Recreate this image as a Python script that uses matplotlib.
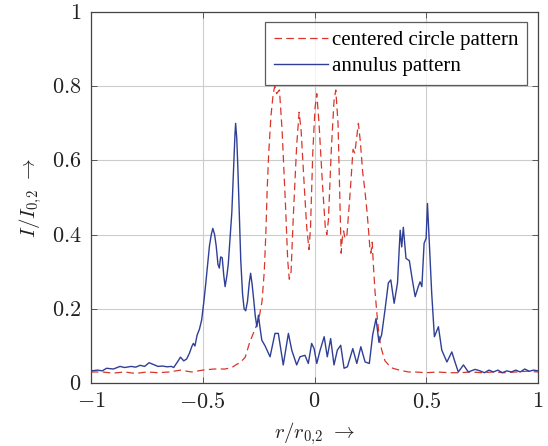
import numpy as np
import matplotlib
matplotlib.use("Agg")
import matplotlib.pyplot as plt

plt.rcParams['mathtext.fontset'] = 'cm'
plt.rcParams['font.family'] = ['Liberation Serif', 'DejaVu Serif']

# centered circle pattern (red, dashed)
circle_x = [-1.0, -0.95, -0.9, -0.85, -0.8, -0.75, -0.7, -0.65, -0.6, -0.55,
            -0.5, -0.45, -0.4, -0.37, -0.35, -0.333, -0.31, -0.29, -0.27, -0.25,
            -0.235, -0.225, -0.218, -0.212, -0.205, -0.195, -0.185, -0.178,
            -0.17, -0.157, -0.145, -0.13, -0.12, -0.113, -0.105, -0.095, -0.08,
            -0.069, -0.06, -0.045, -0.035, -0.025, -0.018, -0.008, 0.002, 0.01,
            0.02, 0.035, 0.048, 0.055, 0.062, 0.075, 0.087, 0.095, 0.105, 0.113,
            0.119, 0.124, 0.13, 0.136, 0.145, 0.16, 0.172, 0.18, 0.19, 0.196,
            0.205, 0.215, 0.225, 0.235, 0.243, 0.248, 0.252, 0.258, 0.262, 0.27,
            0.28, 0.29, 0.3, 0.315, 0.33, 0.35, 0.38, 0.42, 0.45, 0.5, 0.55, 0.6,
            0.65, 0.7, 0.75, 0.8, 0.85, 0.9, 0.95, 1.0]
circle_y = [0.03, 0.03, 0.027, 0.03, 0.026, 0.03, 0.028, 0.03, 0.035, 0.03,
            0.035, 0.038, 0.038, 0.042, 0.05, 0.055, 0.07, 0.11, 0.14, 0.17,
            0.22, 0.30, 0.40, 0.52, 0.62, 0.72, 0.78, 0.80,
            0.78, 0.79, 0.68, 0.48, 0.33, 0.28, 0.30, 0.45, 0.64,
            0.73, 0.68, 0.52, 0.42, 0.36, 0.42, 0.62, 0.74, 0.78,
            0.70, 0.54, 0.42, 0.40, 0.44, 0.63, 0.76, 0.79, 0.70, 0.50,
            0.35, 0.39, 0.41, 0.39, 0.40, 0.52, 0.63, 0.62, 0.67, 0.70,
            0.65, 0.57, 0.52, 0.46, 0.40, 0.36, 0.35, 0.38, 0.33, 0.25,
            0.18, 0.12, 0.09, 0.06, 0.05, 0.04, 0.035, 0.03, 0.03, 0.028, 0.03, 0.028,
            0.028, 0.03, 0.028, 0.03, 0.028, 0.03, 0.032, 0.03]

# annulus pattern (blue, solid)
annulus_x = [-1.0, -0.97, -0.95, -0.93, -0.9, -0.87, -0.85, -0.82, -0.8, -0.78,
             -0.76, -0.74, -0.72, -0.7, -0.68, -0.66, -0.64, -0.63, -0.61, -0.6,
             -0.585, -0.572, -0.56, -0.548, -0.542, -0.535, -0.525, -0.515,
             -0.505, -0.495, -0.488, -0.48, -0.47, -0.462, -0.455, -0.447,
             -0.44, -0.432, -0.426, -0.42, -0.413, -0.406, -0.4, -0.392, -0.386,
             -0.378, -0.37, -0.362, -0.356, -0.353, -0.348, -0.343, -0.336,
             -0.33, -0.322, -0.315, -0.308, -0.3, -0.292, -0.286, -0.28, -0.272,
             -0.265, -0.258, -0.251, -0.244, -0.236, -0.221, -0.199, -0.177,
             -0.162, -0.14, -0.117, -0.102, -0.08, -0.065, -0.043, -0.028,
             -0.013, -0.002, 0.01, 0.025, 0.043, 0.057, 0.072, 0.087, 0.102,
             0.117, 0.132, 0.147, 0.171, 0.189, 0.207, 0.226, 0.245, 0.26,
             0.275, 0.288, 0.3, 0.315, 0.33, 0.341, 0.356, 0.371, 0.383, 0.39,
             0.397, 0.409, 0.424, 0.435, 0.45, 0.464, 0.472, 0.48, 0.49, 0.499,
             0.505, 0.514, 0.524, 0.536, 0.554, 0.569, 0.592, 0.614, 0.628,
             0.643, 0.666, 0.688, 0.718, 0.74, 0.76, 0.78, 0.8, 0.82, 0.84,
             0.86, 0.88, 0.9, 0.92, 0.94, 0.96, 0.98, 1.0]
annulus_y = [0.033, 0.035, 0.033, 0.04, 0.038, 0.045, 0.042, 0.045, 0.043, 0.048,
             0.045, 0.055, 0.05, 0.045, 0.046, 0.044, 0.045, 0.042, 0.06, 0.07,
             0.06, 0.065, 0.08, 0.1, 0.107, 0.1, 0.13, 0.145,
             0.17, 0.22, 0.26, 0.31, 0.37, 0.40, 0.417, 0.40,
             0.37, 0.32, 0.31, 0.34, 0.338, 0.29, 0.26, 0.29, 0.32,
             0.39, 0.46, 0.58, 0.67, 0.70, 0.66, 0.58, 0.45,
             0.33, 0.24, 0.20, 0.195, 0.22, 0.27, 0.296, 0.27, 0.224,
             0.18, 0.152, 0.183, 0.15, 0.116, 0.10, 0.071, 0.134,
             0.134, 0.049, 0.134, 0.089, 0.049, 0.071, 0.075, 0.053,
             0.107, 0.093, 0.053, 0.089, 0.125, 0.071, 0.12, 0.049, 0.089,
             0.102, 0.04, 0.044, 0.093, 0.053, 0.098, 0.057, 0.053, 0.13,
             0.174, 0.11, 0.13, 0.197, 0.27, 0.278, 0.215, 0.27, 0.412, 0.367,
             0.42, 0.336, 0.33, 0.287, 0.233, 0.26, 0.273, 0.26, 0.377, 0.39,
             0.484, 0.367, 0.242, 0.125, 0.152, 0.089, 0.057, 0.084, 0.057,
             0.03, 0.049, 0.03, 0.037, 0.033, 0.028, 0.035, 0.03, 0.035, 0.028,
             0.033, 0.03, 0.035, 0.03, 0.038, 0.032, 0.035, 0.033]

fig = plt.figure(figsize=(5.48, 4.46), dpi=100)
ax = fig.add_axes([0.166, 0.141, 0.816, 0.832])

ax.plot(circle_x, circle_y, color='#d9362b', lw=0.9, dashes=(6, 3.5),
        label='centered circle pattern')
ax.plot(annulus_x, annulus_y, color='#2f3f96', lw=1.0,
        label='annulus pattern')

ax.set_xlim(-1, 1)
ax.set_ylim(0, 1)
ax.set_xticks([-1, -0.5, 0, 0.5, 1])
ax.set_xticklabels([r'$-1$', r'$-0.5$', r'$0$', r'$0.5$', r'$1$'])
ax.set_yticks([0, 0.2, 0.4, 0.6, 0.8, 1])
ax.set_yticklabels([r'$0$', r'$0.2$', r'$0.4$', r'$0.6$', r'$0.8$', r'$1$'])
ax.tick_params(direction='in', length=4, width=0.6, labelsize=16,
               top=True, right=True, colors='#444444', labelcolor='#222222')
ax.tick_params(axis='x', pad=7)
ax.tick_params(axis='y', pad=7)
ax.grid(True, color='#cccccc', lw=0.8)
for s in ax.spines.values():
    s.set_color('#444444')
    s.set_linewidth(0.9)

ax.set_xlabel(r'$r/r_{0,\!2}\ \rightarrow$', fontsize=15, color='#222222', va='center')
ax.xaxis.set_label_coords(0.5, -0.135)
ax.set_ylabel(r'$I/I_{0,\!2}\ \rightarrow$', fontsize=15, color='#222222', va='center')
ax.yaxis.set_label_coords(-0.135, 0.5)

leg = ax.legend(loc='upper right', fontsize=15, frameon=True, fancybox=False,
                handlelength=2.6, handletextpad=0.2, borderpad=0.4,
                labelspacing=0.3, bbox_to_anchor=(0.975, 0.972),
                borderaxespad=0.0)
leg.get_frame().set_edgecolor('#333333')
leg.get_frame().set_linewidth(0.9)

fig.savefig('out.png', dpi=100)
